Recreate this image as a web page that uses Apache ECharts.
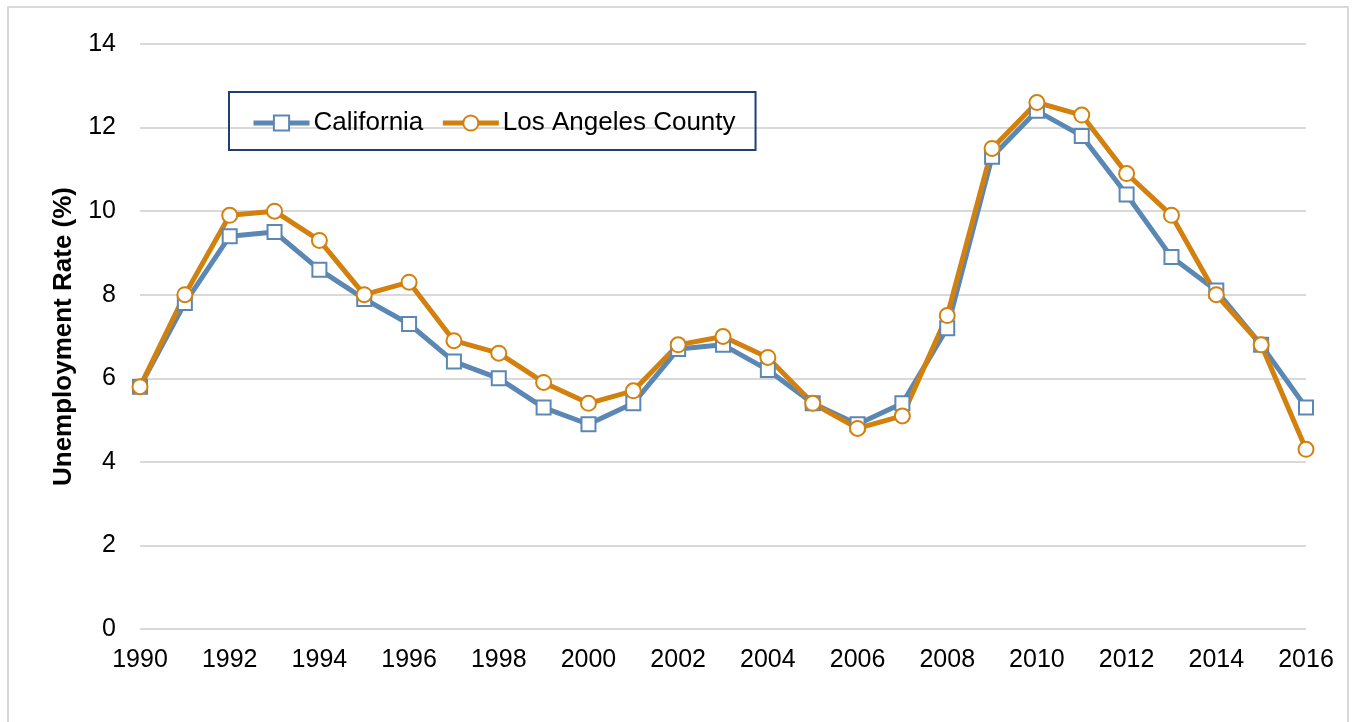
<!DOCTYPE html>
<html>
<head>
<meta charset="utf-8">
<script src="https://cdn.jsdelivr.net/npm/echarts@6/dist/echarts.min.js"></script>
<style>
  html, body { margin: 0; padding: 0; background: #fff; }
  #frame { position: absolute; left: 7px; top: 6px; width: 1342px; height: 730px; border: 2px solid #d9d9d9; box-sizing: border-box; }
  #chart { position: absolute; left: 0; top: 0; width: 1354px; height: 722px; }
</style>
</head>
<body>
<div id="frame"></div>
<div id="chart"></div>
<script>
var years = [];
for (var y = 1990; y <= 2016; y++) years.push(String(y));

var california = [5.8, 7.8, 9.4, 9.5, 8.6, 7.9, 7.3, 6.4, 6.0, 5.3, 4.9, 5.4, 6.7, 6.8, 6.2, 5.4, 4.9, 5.4, 7.2, 11.3, 12.4, 11.8, 10.4, 8.9, 8.1, 6.8, 5.3];
var laCounty   = [5.8, 8.0, 9.9, 10.0, 9.3, 8.0, 8.3, 6.9, 6.6, 5.9, 5.4, 5.7, 6.8, 7.0, 6.5, 5.4, 4.8, 5.1, 7.5, 11.5, 12.6, 12.3, 10.9, 9.9, 8.0, 6.8, 4.3];

var myChart = echarts.init(document.getElementById('chart'));

var font = 'Liberation Sans, Arial, sans-serif';

myChart.setOption({
  animation: false,
  textStyle: { fontFamily: font },
  grid: { left: 140, right: 48, top: 44, bottom: 93 },
  legend: {
    left: 229, top: 92,
    padding: [18, 20, 14, 22],
    itemGap: 17,
    itemWidth: 56,
    itemHeight: 19,
    borderColor: '#1f3e78',
    borderWidth: 2,
    lineStyle: { width: 5 },
    textStyle: { fontSize: 26, color: '#000', fontFamily: font, padding: [0, 0, 0, -1] },
    data: ['California', 'Los Angeles County']
  },
  xAxis: {
    type: 'category',
    data: years,
    boundaryGap: false,
    axisLine: { show: false },
    axisTick: { show: false },
    axisLabel: { interval: 1, fontSize: 25, color: '#000', margin: 19 }
  },
  yAxis: {
    type: 'value',
    min: 0, max: 14, interval: 2,
    name: 'Unemployment Rate (%)',
    nameLocation: 'middle',
    nameGap: 58,
    nameTextStyle: { fontSize: 26, fontWeight: 'bold', color: '#000' },
    axisLine: { show: false },
    axisTick: { show: false },
    axisLabel: { fontSize: 25, color: '#000', margin: 24 },
    splitLine: { lineStyle: { color: '#d9d9d9', width: 2 } }
  },
  series: [
    {
      name: 'California',
      type: 'line',
      data: california,
      symbol: 'rect',
      symbolSize: 14,
      lineStyle: { color: '#5b87b4', width: 5 },
      itemStyle: { color: '#fff', borderColor: '#5b87b4', borderWidth: 2 }
    },
    {
      name: 'Los Angeles County',
      type: 'line',
      data: laCounty,
      symbol: 'circle',
      symbolSize: 15,
      lineStyle: { color: '#d2800e', width: 5 },
      itemStyle: { color: '#fff', borderColor: '#d2800e', borderWidth: 2 }
    }
  ]
});
</script>
</body>
</html>
